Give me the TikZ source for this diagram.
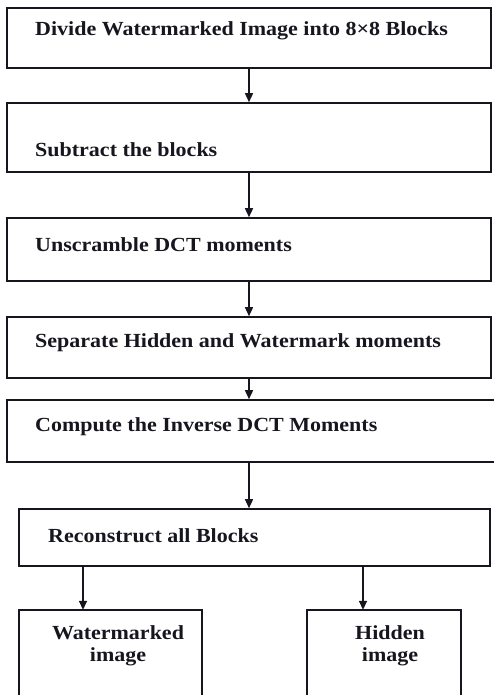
\documentclass[tikz,border=0pt]{standalone}
\usepackage{fontspec}
\setmainfont{Liberation Serif}[FakeStretch=1.1]
\usetikzlibrary{arrows.meta}
\definecolor{ink}{HTML}{16161F}
\tikzset{
  box/.style={draw=ink, line width=1.6pt, inner sep=0pt, fill=white},
  openbox/.style={inner sep=0pt},
  lbl/.style={inner sep=0pt, text=ink, font=\bfseries\fontsize{20}{21.5}\selectfont},
  flow/.style={draw=ink, line width=1.5pt, -{Triangle[length=9pt,width=8pt]}}
}
\begin{document}
\begin{tikzpicture}[x=1pt,y=-1pt]
\useasboundingbox (0,0) rectangle (493,695);
% boxes
\node[box, minimum width=484pt, minimum height=60pt] (b1) at (249,38) {};
\node[box, minimum width=484pt, minimum height=69pt] (b2) at (249,137.5) {};
\node[box, minimum width=484pt, minimum height=63pt] (b3) at (249,249.5) {};
\node[box, minimum width=484pt, minimum height=61pt] (b4) at (249,347.5) {};
\node[box, minimum width=489pt, minimum height=62pt] (b5) at (251.5,431) {};
\node[box, minimum width=471pt, minimum height=57pt] (b6) at (254.5,537.5) {};
\node[openbox, minimum width=183pt, minimum height=95pt] (b7) at (110.5,657.5) {};
\node[openbox, minimum width=154pt, minimum height=95pt] (b8) at (384,657.5) {};
\draw[draw=ink, line width=1.6pt] (b7.south west) -- (b7.north west) -- (b7.north east) -- (b7.south east);
\draw[draw=ink, line width=1.6pt] (b8.south west) -- (b8.north west) -- (b8.north east) -- (b8.south east);
% labels
\node[lbl, anchor=base west] (t1) at (35,36) {Divide Watermarked Image into 8×8 Blocks};
\node[lbl, anchor=base west] (t2) at (35,157) {Subtract the blocks};
\node[lbl, anchor=base west] (t3) at (35,251) {Unscramble DCT moments};
\node[lbl, anchor=base west] (t4) at (35,347) {Separate Hidden and Watermark moments};
\node[lbl, anchor=base west] (t5) at (35,431) {Compute the Inverse DCT Moments};
\node[lbl, anchor=base west] (t6) at (48,542) {Reconstruct all Blocks};
\node[lbl, anchor=north, align=center] (t7) at (118,625.5) {Watermarked\\image};
\node[lbl, anchor=north, align=center] (t8) at (390,625.5) {Hidden\\image};
% connectors
\coordinate (xl) at (83,0);
\coordinate (xr) at (363,0);
\draw[flow] (b1.south) -- (b2.north);
\draw[flow] (b2.south) -- (b3.north);
\draw[flow] (b3.south) -- (b4.north);
\draw[flow] (b4.south) -- (b5.north -| b4.south);
\draw[flow] (b5.south -| b4.south) -- (b6.north -| b4.south);
\draw[flow] (b6.south -| xl) -- (b7.north -| xl);
\draw[flow] (b6.south -| xr) -- (b8.north -| xr);
\end{tikzpicture}
\end{document}
